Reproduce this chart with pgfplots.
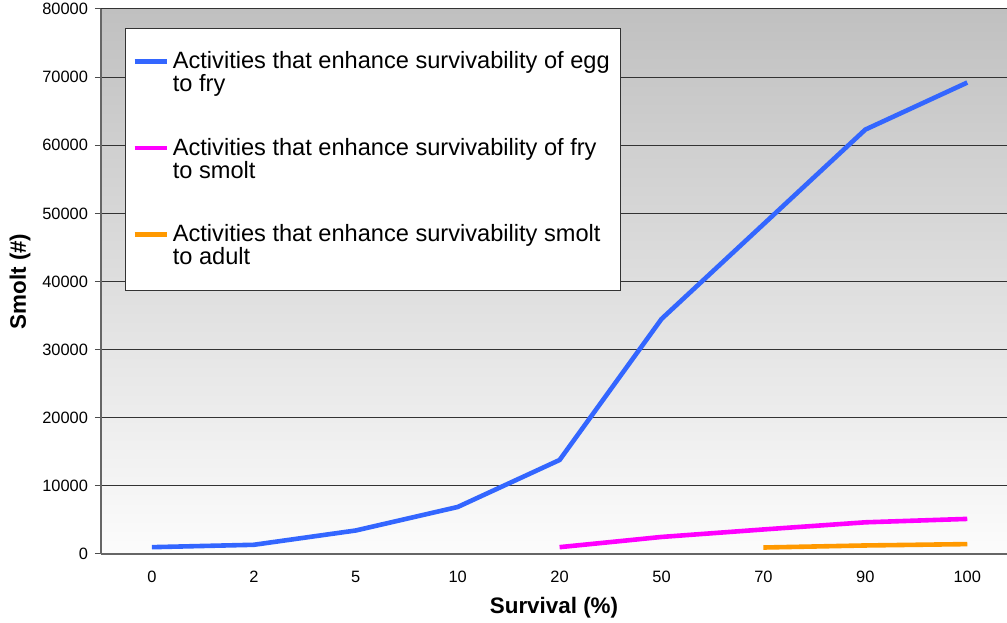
\documentclass[border=0pt]{standalone}
\usepackage{pgfplots}
\pgfplotsset{compat=1.18}
\usepackage{fontspec}
\setmainfont{Liberation Sans}
\definecolor{cblue}{HTML}{3366FF}
\definecolor{cmag}{HTML}{FF00FF}
\definecolor{corange}{HTML}{FF9900}
\definecolor{bgtop}{HTML}{C0C0C0}
\definecolor{bgbot}{HTML}{FCFCFC}
\begin{document}
\begin{tikzpicture}
\begin{axis}[
  scale only axis,
  width=453pt, height=272.5pt,
  xmin=-0.5, xmax=8.39,
  ymin=0, ymax=80000,
  xtick={0,...,8},
  xticklabels={0,2,5,10,20,50,70,90,100},
  extra x ticks={-0.5,0.5,1.5,2.5,3.5,4.5,5.5,6.5,7.5},
  extra x tick labels={},
  extra x tick style={major tick length=3pt, tick style={black!70, line width=0.5pt}, grid=none},
  x tick style={draw=none},
  ytick={0,10000,...,80000},
  scaled y ticks=false,
  yticklabel style={/pgf/number format/set thousands separator={}, /pgf/number format/1000 sep={}},
  /pgf/number format/assume math mode=true,
  ymajorgrids,
  major grid style={black!80, line width=0.5pt},
  y tick style={black!70, line width=0.5pt},
  tick align=outside,
  major tick length=3pt,
  axis x line*=bottom,
  axis y line*=left,
  axis line style={black!60, line width=0.6pt},
  tick label style={font=\fontsize{8.2}{9}\selectfont},
  xticklabel style={yshift=-2pt},
  xlabel={\bfseries Survival (\%)},
  ylabel={\bfseries Smolt (\#)},
  label style={font=\fontsize{11.2}{12}\selectfont},
  xlabel style={yshift=5.5pt},
  ylabel style={yshift=-1pt},
  axis background/.style={top color=bgtop, bottom color=bgbot},
  legend style={at={(rel axis cs:0,1)}, anchor=north west, xshift=12pt, yshift=-9.5pt,
    draw=black!80, line width=0.5pt, fill=white,
    font=\fontsize{11.8}{11.7}\selectfont,
    cells={anchor=west, align=left},
    row sep=17.5pt,
    inner xsep=3.5pt, inner ysep=9.5pt},
  legend image code/.code={\draw[#1, line width=2.2pt] (0cm,5.85pt) -- (16pt,5.85pt);},
  legend cell align=left,
]
\addplot[cblue, line width=2.3pt] coordinates {
 (0,1000) (1,1350) (2,3450) (3,6900) (4,13800) (5,34500) (6,48400) (7,62300) (8,69200)};
\addlegendentry{Activities that enhance survivability of egg\\to fry}
\addplot[cmag, line width=2.3pt] coordinates {
 (4,1000) (5,2500) (6,3600) (7,4650) (8,5150)};
\addlegendentry{Activities that enhance survivability of fry\\to smolt}
\addplot[corange, line width=2.3pt] coordinates {
 (6,950) (7,1250) (8,1450)};
\addlegendentry{Activities that enhance survivability smolt\\to adult}
\coordinate (bbsw) at (rel axis cs:0,0);
\coordinate (bbne) at (rel axis cs:1,1);
\end{axis}
\pgfresetboundingbox
\path ([xshift=-50.5pt,yshift=-34.5pt]bbsw) rectangle ([yshift=4.5pt]bbne);
\end{tikzpicture}
\end{document}
